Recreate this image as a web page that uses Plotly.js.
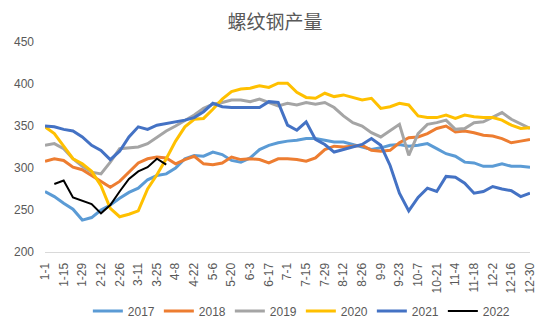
<!DOCTYPE html>
<html>
<head>
<meta charset="utf-8">
<script src="https://cdn.plot.ly/plotly-3.0.1.min.js"></script>
<style>html,body{margin:0;padding:0;background:#fff;}#chart{width:550px;height:325px;}</style>
</head>
<body>
<div id="chart"></div>
<script>
// Tick labels (every two weeks)
const tickLabels = ["1-1","1-15","1-29","2-12","2-26","3-11","3-25","4-8","4-22","5-6","5-20","6-3","6-17","7-1","7-15","7-29","8-12","8-26","9-9","9-23","10-7","10-21","11-4","11-18","12-2","12-16","12-30"];

const years = ["2017","2018","2019","2020","2021","2022"];

// Weekly output (万吨), week index starts at 1-1
const y2017 = [272,266,258,251,238,241,250,256,264,271,276,286,291,293,300,311,315,314,319,316,309,307,312,322,327,330,332,333,335,335,333,331,331,328,325,322,324,327,328,326,327,329,323,317,314,307,306,302,302,305,302,302,301];
const y2018 = [308,311,309,301,298,291,285,277,284,295,306,311,313,312,305,310,314,305,304,306,313,310,311,310,306,311,311,310,308,312,322,326,325,326,327,321,320,321,330,336,337,341,347,350,343,344,342,339,338,335,330,332,334];
const y2019 = [327,329,323,311,302,295,293,307,323,324,325,329,337,344,350,356,363,371,376,378,381,381,379,382,378,374,377,375,378,376,378,372,362,354,350,342,337,345,352,315,341,352,354,357,346,347,354,355,361,366,358,352,347];
const y2020 = [349,341,326,311,305,296,279,252,242,245,249,275,292,311,332,349,358,359,370,382,391,394,395,398,396,401,401,390,384,383,389,385,387,384,381,383,371,373,377,375,362,360,360,363,359,363,361,360,360,357,351,347,348];
const y2021 = [350,349,346,344,337,327,321,310,320,337,349,346,351,353,355,357,360,367,377,373,372,372,372,372,379,378,351,345,355,334,328,319,322,325,328,335,327,303,270,249,265,276,272,290,289,282,270,272,278,275,273,266,270];
const y2022 = [281,285,265,261,257,246,256,272,287,296,301,311,304];
const start2022 = 1; // first 2022 observation falls in the second week

const series = [y2017, y2018, y2019, y2020, y2021, y2022];
const starts = [0, 0, 0, 0, 0, start2022];
const colors = ["#5B9BD5","#ED7D31","#A5A5A5","#FFC000","#4472C4","#000000"];
const widths = [3, 3, 3, 3, 3, 2];

const traces = series.map((vals, k) => ({
  type: "scatter",
  mode: "lines",
  name: years[k],
  x: vals.map((_, i) => i + starts[k]),
  y: vals,
  line: {color: colors[k], width: widths[k]},
  hoverinfo: "x+y+name"
}));

const tickVals = tickLabels.map((_, i) => i * 2);
const font = {family: "Liberation Sans, Arial, sans-serif", size: 12, color: "#595959"};

const layout = {
  width: 550,
  height: 325,
  paper_bgcolor: "#ffffff",
  plot_bgcolor: "#ffffff",
  margin: {l: 45, r: 20, t: 42, b: 73, autoexpand: false},
  font: font,
  title: {
    text: "螺纹钢产量",
    font: {family: "Noto Sans CJK SC, sans-serif", size: 19, color: "#595959"},
    x: 0.5, xref: "container", xanchor: "center",
    y: 0.93, yref: "container", yanchor: "middle"
  },
  xaxis: {
    type: "linear",
    range: [0, 52],
    tickmode: "array",
    tickvals: tickVals,
    ticktext: tickLabels,
    tickangle: -90,
    showgrid: false,
    zeroline: false,
    showline: true,
    linecolor: "#D9D9D9",
    linewidth: 1,
    ticks: "",
    ticklabelstandoff: 5,
    automargin: false,
    tickfont: font
  },
  yaxis: {
    range: [200, 450],
    dtick: 50,
    tick0: 200,
    showgrid: false,
    zeroline: false,
    showline: false,
    ticks: "",
    ticklabelstandoff: 10,
    automargin: false,
    tickfont: font
  },
  showlegend: true,
  legend: {
    orientation: "h",
    xref: "container", x: 0.547, xanchor: "center",
    yref: "container", y: 0.043, yanchor: "middle",
    font: font,
    itemwidth: 30,
    entrywidth: 26,
    entrywidthmode: "pixels",
    tracegroupgap: 0
  }
};

Plotly.newPlot("chart", traces, layout, {displayModeBar: false, staticPlot: true});
</script>
</body>
</html>
